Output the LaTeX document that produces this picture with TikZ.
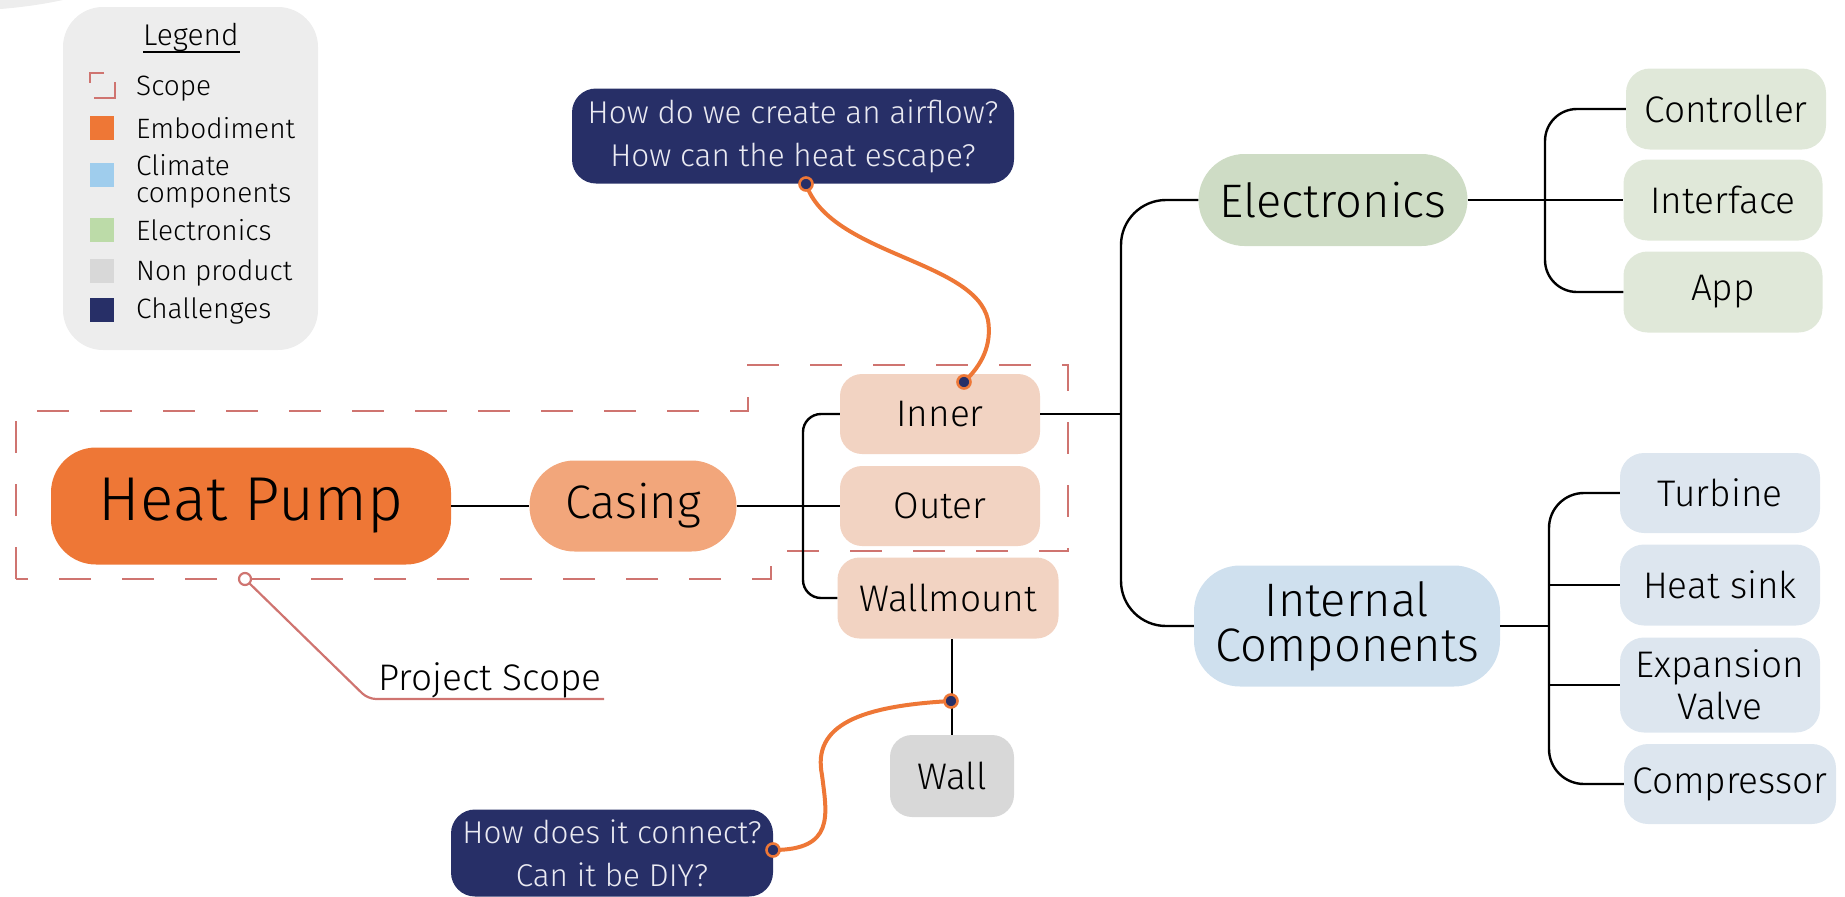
\documentclass[tikz,border=0pt]{standalone}
\usepackage{fontspec}
\setmainfont{Fira Sans Light}
\usetikzlibrary{calc}
\definecolor{emb}{HTML}{EE7736}
\definecolor{casingc}{HTML}{F2A67B}
\definecolor{subc}{HTML}{F2D3C2}
\definecolor{wallc}{HTML}{D8D8D8}
\definecolor{elecc}{HTML}{CEDCC5}
\definecolor{elecsub}{HTML}{E0E8D9}
\definecolor{intc}{HTML}{CFE0EE}
\definecolor{intsub}{HTML}{DDE6EF}
\definecolor{chal}{HTML}{272F67}
\definecolor{legbg}{HTML}{EDEDED}
\definecolor{scopec}{HTML}{CF7470}
\definecolor{climc}{HTML}{9FCDED}
\definecolor{elecleg}{HTML}{BCDBA8}
\definecolor{chaltext}{HTML}{EAEAF2}
\tikzset{
  box/.style={inner sep=0pt, align=center, text=black},
  fA/.style={font=\fontsize{62}{70}\selectfont},
  fB/.style={font=\fontsize{47}{45}\selectfont},
  fC/.style={font=\fontsize{37}{42}\selectfont},
  fD/.style={font=\fontsize{31.5}{43}\selectfont},
  fE/.style={font=\fontsize{28}{24}\selectfont},
  conn/.style={draw=black, line width=2.4pt},
  chalbox/.style={box, fill=chal, text=chaltext, rounded corners=24pt, fD},
  chalcurve/.style={draw=emb, line width=4pt},
  dotm/.style={circle, fill=chal, draw=emb, line width=2.6pt, minimum size=13pt, inner sep=0pt},
  scopeline/.style={draw=scopec, line width=2.6pt, dash pattern=on 32pt off 31pt},
  legsq/.style={minimum size=24pt, inner sep=0pt},
  legtxt/.style={anchor=base west, inner sep=0pt, fE, text=black}
}
\begin{document}
\begin{tikzpicture}[x=1pt,y=-1pt]
\useasboundingbox (0,0) rectangle (1845,897);
% top-left fragment
\fill[legbg] (0,0) -- (63,0) .. controls (40,5) and (15,8) .. (0,9) -- cycle;
% legend
\fill[legbg, rounded corners=40pt] (63,7) rectangle (318,350);
\node[legtxt, font=\fontsize{30}{30}\selectfont] (legt) at (143,45) {Legend};
\draw[line width=2pt] (143,52) -- (240,52);
\draw[scopec, line width=2pt] (104,73) -- (90,73) -- (90,83);
\draw[scopec, line width=2pt] (94,98) -- (115,98) -- (115,82);
\node[legsq, fill=emb] (sq1) at (102,128) {};
\node[legsq, fill=climc] (sq2) at (102,175) {};
\node[legsq, fill=elecleg] (sq3) at (102,230) {};
\node[legsq, fill=wallc] (sq4) at (102,271) {};
\node[legsq, fill=chal] (sq5) at (102,310) {};
\node[legtxt] (l0) at (136,95) {Scope};
\node[legtxt] (l1) at (136,138) {Embodiment};
\node[legtxt] (l2a) at (136,175) {Climate};
\node[legtxt] (l2b) at (136,202) {components};
\node[legtxt] (l3) at (136,240) {Electronics};
\node[legtxt] (l4) at (136,280) {Non product};
\node[legtxt] (l5) at (136,318) {Challenges};
% scope outline
\draw[scopeline] (16,579) -- (16,411) -- (748,411) -- (748,365) -- (1068,365) -- (1068,551) -- (771,551) -- (771,579) -- cycle;
% coordinates for branches
\coordinate (bx) at (803,506);
\coordinate (by) at (1121,414);
\coordinate (cy) at (1545,200);
\coordinate (dy) at (1549,626);
% nodes
\node[box, fill=emb, rounded corners=45pt, minimum width=400pt, minimum height=117pt, fA] (hp) at (251,506) {Heat Pump};
\node[box, fill=casingc, rounded corners=45pt, minimum width=207pt, minimum height=91pt, fB] (casing) at (633,506) {Casing};
\node[box, fill=subc, rounded corners=22pt, minimum width=200pt, minimum height=80pt, fC] (inner) at (940,414) {Inner};
\node[box, fill=subc, rounded corners=22pt, minimum width=200pt, minimum height=80pt, fC] (outer) at (940,506) {Outer};
\node[box, fill=subc, rounded corners=22pt, minimum width=221pt, minimum height=81pt, fC] (wallmount) at (948,598) {Wallmount};
\node[box, fill=wallc, rounded corners=22pt, minimum width=124pt, minimum height=82pt, fC] (wall) at (952,776) {Wall};
\node[box, fill=elecc, rounded corners=46pt, minimum width=269pt, minimum height=92pt, fB] (elec) at (1333,200) {Electronics};
\node[box, fill=intc, rounded corners=46pt, minimum width=306pt, minimum height=121pt, fB] (internal) at (1347,626) {Internal\\Components};
\node[box, fill=elecsub, rounded corners=24pt, minimum width=200pt, minimum height=81pt, fC] (controller) at (1726,109) {Controller};
\node[box, fill=elecsub, rounded corners=24pt, minimum width=199pt, minimum height=81pt, fC] (interface) at (1723,200) {Interface};
\node[box, fill=elecsub, rounded corners=24pt, minimum width=199pt, minimum height=81pt, fC] (app) at (1723,292) {App};
\node[box, fill=intsub, rounded corners=24pt, minimum width=200pt, minimum height=80pt, fC] (turbine) at (1720,493) {Turbine};
\node[box, fill=intsub, rounded corners=24pt, minimum width=200pt, minimum height=81pt, fC] (heatsink) at (1720,585) {Heat sink};
\node[box, fill=intsub, rounded corners=24pt, minimum width=200pt, minimum height=95pt, fC] (expansion) at (1720,685) {Expansion\\Valve};
\node[box, fill=intsub, rounded corners=24pt, minimum width=212pt, minimum height=80pt, fC] (compressor) at (1730,784) {Compressor};
\node[chalbox, minimum width=442pt, minimum height=95pt] (ct1) at (793,136) {How do we create an airflow?\\How can the heat escape?};
\node[chalbox, minimum width=322pt, minimum height=87pt] (ct2) at (612,853) {How does it connect?\\Can it be DIY?};
% connectors
\draw[conn] (hp.east) -- (casing.west);
\draw[conn] (casing.east) -- (outer.west);
\draw[conn, rounded corners=18pt] (inner.west) -| (bx) |- (wallmount.west);
\draw[conn] (inner.east) -- (by);
\draw[conn, rounded corners=45pt] (elec.west) -| (by) |- (internal.west);
\draw[conn] (elec.east) -- (interface.west);
\draw[conn, rounded corners=32pt] (controller.west) -| (cy) |- (app.west);
\draw[conn] (internal.east) -- (dy);
\draw[conn, rounded corners=35pt] (turbine.west) -| (dy) |- (compressor.west);
\draw[conn] (heatsink.west) -- (heatsink.west -| dy);
\draw[conn] (expansion.west) -- (expansion.west -| dy);
\draw[conn] (wall.north) -- (wall.north |- wallmount.south);
% project scope callout
\coordinate (ps) at (245,579);
\draw[scopec, line width=2.2pt, rounded corners=8pt] (ps) -- (368,699) -- (604,699);
\node[circle, draw=scopec, fill=white, line width=2.2pt, minimum size=12pt, inner sep=0pt] (psdot) at (ps) {};
\node[anchor=base west, inner sep=0pt, font=\fontsize{37}{37}\selectfont] (pst) at (378,690) {Project Scope};
% challenge curves
\coordinate (c1s) at (806,184);
\coordinate (c1e) at (964,382);
\coordinate (c2s) at (951,701);
\coordinate (c2e) at (773,850);
\draw[chalcurve] (c1s) .. controls (830,255) and (975,260) .. (988,320) .. controls (992,345) and (982,365) .. (c1e);
\draw[chalcurve] (c2s) .. controls (860,706) and (812,725) .. (822,775) .. controls (827,815) and (835,850) .. (c2e);
\node[dotm] (d1) at (c1s) {};
\node[dotm] (d2) at (c1e) {};
\node[dotm] (d3) at (c2s) {};
\node[dotm] (d4) at (c2e) {};
\end{tikzpicture}
\end{document}
